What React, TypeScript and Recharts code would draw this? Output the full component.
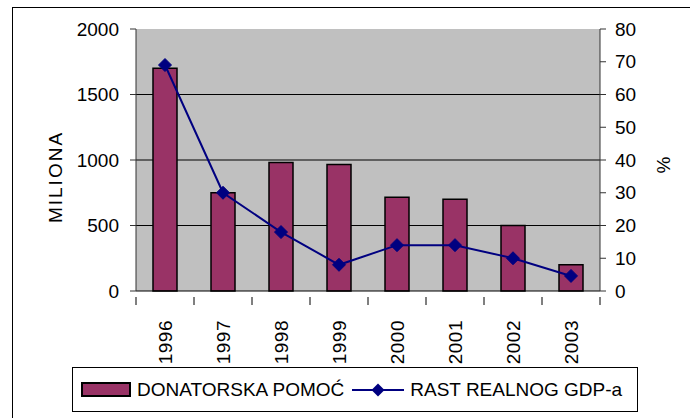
import React from "react";
import {
  ComposedChart,
  Bar,
  Line,
  XAxis,
  YAxis,
  CartesianGrid,
} from "recharts";

const years = ["1996", "1997", "1998", "1999", "2000", "2001", "2002", "2003"];
const donatorskaPomoc = [1700, 750, 980, 965, 715, 700, 500, 200];
const rastGdp = [69, 30, 18, 8, 14, 14, 10, 4.6];
const leftTicks = [0, 500, 1000, 1500, 2000];
const rightTicks = [0, 10, 20, 30, 40, 50, 60, 70, 80];

const data = years.map((year, i) => ({
  year,
  pomoc: donatorskaPomoc[i],
  gdp: rastGdp[i],
}));

const FONT = "'Liberation Sans', Arial, sans-serif";
const FS = 19;
const BAR_COLOR = "#993366";
const LINE_COLOR = "#000080";

function Diamond(props: any) {
  const { cx, cy } = props;
  if (cx == null || cy == null) return null;
  const r = 6.5;
  return (
    <polygon
      points={`${cx},${cy - r} ${cx + r},${cy} ${cx},${cy + r} ${cx - r},${cy}`}
      fill={LINE_COLOR}
      stroke={LINE_COLOR}
    />
  );
}

function YearTick(props: any) {
  const { x, y, payload, index } = props;
  const half = 29;
  const ly = y + 21;
  return (
    <g>
      <line x1={x - half} y1={y - 2} x2={x - half} y2={y + 6} stroke="#000" />
      {index === years.length - 1 && (
        <line x1={x + half} y1={y - 2} x2={x + half} y2={y + 6} stroke="#000" />
      )}
      <text
        x={x}
        y={ly}
        transform={`rotate(-90 ${x} ${ly})`}
        textAnchor="end"
        dominantBaseline="central"
        fontSize={FS}
        fontFamily={FONT}
        letterSpacing={0.5}
        fill="#000"
      >
        {payload.value}
      </text>
    </g>
  );
}

export default function App() {
  return (
    <div
      style={{
        position: "absolute",
        left: 0,
        top: 0,
        width: 690,
        height: 418,
        background: "#fff",
        overflow: "hidden",
      }}
    >
      <div
        style={{
          position: "absolute",
          left: 12,
          top: 7,
          width: 690,
          height: 420,
          borderTop: "1px solid #000",
          borderLeft: "1px solid #000",
        }}
      />
      <div style={{ position: "absolute", left: 0, top: 0 }}>
        <ComposedChart
          width={690}
          height={418}
          data={data}
          margin={{ top: 29, right: 0, bottom: 0, left: 0 }}
        >
          <CartesianGrid
            yAxisId="left"
            vertical={false}
            horizontalValues={[500, 1000, 1500]}
            stroke="#000"
            fill="#c0c0c0"
            fillOpacity={1}
          />
          <XAxis
            dataKey="year"
            height={127}
            interval={0}
            axisLine={{ stroke: "#000" }}
            tickLine={false}
            tick={<YearTick />}
          />
          <YAxis
            yAxisId="left"
            width={136}
            domain={[0, 2000]}
            ticks={leftTicks}
            interval={0}
            axisLine={{ stroke: "#333" }}
            tickLine={{ stroke: "#333" }}
            tickSize={6}
            tickMargin={11}
            tick={{ fontSize: FS, fontFamily: FONT, fill: "#000" }}
            label={{
              content: () => (
                <text
                  x={55}
                  y={177}
                  transform="rotate(-90 55 177)"
                  textAnchor="middle"
                  dominantBaseline="central"
                  fontSize={FS}
                  fontFamily={FONT}
                  letterSpacing={2}
                  fill="#000"
                >
                  MILIONA
                </text>
              ),
            }}
          />
          <YAxis
            yAxisId="right"
            orientation="right"
            width={90}
            domain={[0, 80]}
            ticks={rightTicks}
            interval={0}
            axisLine={{ stroke: "#333" }}
            tickLine={{ stroke: "#333" }}
            tickSize={6}
            tickMargin={9}
            tick={{ fontSize: FS, fontFamily: FONT, fill: "#000" }}
            label={{
              content: () => (
                <text
                  x={663}
                  y={165}
                  transform="rotate(-90 663 165)"
                  textAnchor="middle"
                  dominantBaseline="central"
                  fontSize={FS}
                  fontFamily={FONT}
                  fill="#000"
                >
                  %
                </text>
              ),
            }}
          />
          <Bar
            yAxisId="left"
            dataKey="pomoc"
            name="DONATORSKA POMOĆ"
            fill={BAR_COLOR}
            stroke="#000"
            strokeWidth={1.5}
            barSize={24}
            isAnimationActive={false}
          />
          <Line
            yAxisId="right"
            type="linear"
            dataKey="gdp"
            name="RAST REALNOG GDP-a"
            stroke={LINE_COLOR}
            strokeWidth={2}
            dot={<Diamond />}
            activeDot={false}
            isAnimationActive={false}
          />
        </ComposedChart>
      </div>
      <div
        style={{
          position: "absolute",
          left: 72,
          top: 367,
          width: 566,
          height: 45,
          border: "1px solid #000",
          background: "#fff",
          display: "flex",
          alignItems: "center",
          fontFamily: FONT,
          fontSize: FS,
          color: "#000",
          boxSizing: "border-box",
          paddingLeft: 8,
        }}
      >
        <svg width={50} height={15} style={{ display: "block" }}>
          <rect x={1} y={1} width={48} height={13} fill={BAR_COLOR} stroke="#000" strokeWidth={2} />
        </svg>
        <span style={{ marginLeft: 6, whiteSpace: "nowrap" }}>DONATORSKA POMOĆ</span>
        <svg width={52} height={16} style={{ display: "block", marginLeft: 8 }}>
          <line x1={0} y1={8} x2={52} y2={8} stroke={LINE_COLOR} strokeWidth={2} />
          <polygon points="26,1.5 32.5,8 26,14.5 19.5,8" fill={LINE_COLOR} />
        </svg>
        <span style={{ marginLeft: 6, whiteSpace: "nowrap" }}>RAST REALNOG GDP-a</span>
      </div>
    </div>
  );
}
